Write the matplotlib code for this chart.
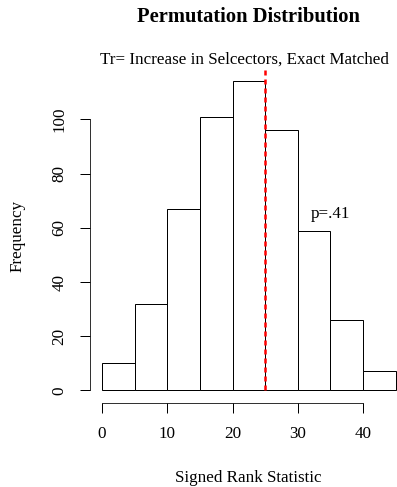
import numpy as np
import matplotlib.pyplot as plt

# Histogram of permutation signed rank statistics
breaks = [0, 5, 10, 15, 20, 25, 30, 35, 40, 45]
counts = [10, 32, 67, 101, 114, 96, 59, 26, 7]
observed = 25
x_ticks = [0, 10, 20, 30, 40]
y_ticks = [0, 20, 40, 60, 80, 100]

plt.rcParams['font.family'] = 'Liberation Serif'
FS = 17

W, H = 397, 487
fig = plt.figure(figsize=(W / 72, H / 72), dpi=72)

# plot region in pixels: left 90, top 69, bottom 403
ax = fig.add_axes([90.3 / W, 1 - 402.8 / H, 1 - 90.3 / W, (402.8 - 69.1) / H])

left = np.array(breaks[:-1])
widths = np.diff(breaks)
ax.bar(left, counts, width=widths, align='edge', color='white',
       edgecolor='black', linewidth=1.0)

ymax = max(counts) * 1.04
ax.set_xlim(-1.8, 45.2)
ax.set_ylim(-0.04 * max(counts), ymax)

ax.vlines(observed, 0, ymax, colors='red', linestyles=(0, (2, 1.6)), linewidth=2.5)
ax.text(35, 65, 'p=.41', ha='center', va='center', fontsize=FS)

for s in ['top', 'right']:
    ax.spines[s].set_visible(False)
ax.spines['left'].set_bounds(0, 100)
ax.spines['bottom'].set_bounds(0, 40)
ax.set_xticks(x_ticks)
ax.set_yticks(y_ticks)
ax.set_yticklabels([str(v) for v in y_ticks], rotation=90, va='center')
ax.tick_params(length=10, width=1, labelsize=FS, pad=13)

fig.text(248 / W, 1 - 17 / H, 'Permutation Distribution', ha='center', va='center',
         fontsize=20.5, fontweight='bold')
fig.text(244 / W, 1 - 60 / H, 'Tr= Increase in Selcectors, Exact Matched',
         ha='center', va='center', fontsize=FS)
fig.text(248 / W, 1 - 478 / H, 'Signed Rank Statistic', ha='center', va='center', fontsize=FS)
fig.text(18 / W, 1 - 236 / H, 'Frequency', ha='center', va='center', rotation=90, fontsize=FS)

fig.savefig('out.png', dpi=72)
